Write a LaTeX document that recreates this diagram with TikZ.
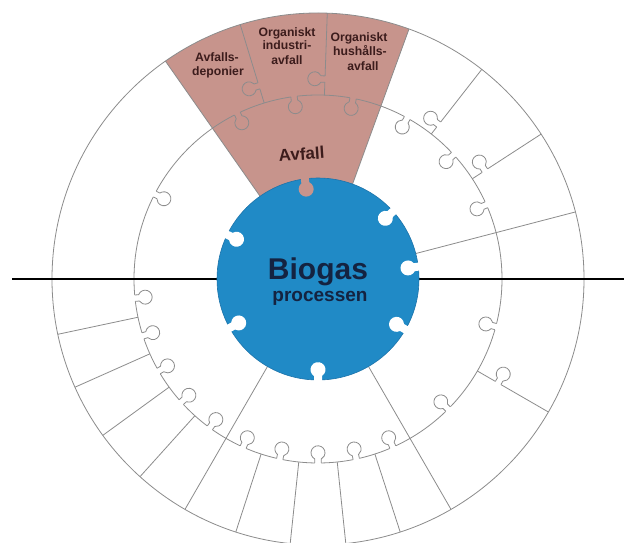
\documentclass[tikz,border=0pt]{standalone}
\usepackage{fontspec}
\setmainfont{Liberation Sans}
\definecolor{pzpink}{RGB}{199,148,140}
\definecolor{pzblue}{RGB}{32,138,198}
\definecolor{pzblueedge}{RGB}{28,115,170}
\definecolor{pznavy}{RGB}{20,35,65}
\definecolor{pzbrown}{RGB}{60,28,28}
\definecolor{pzgray}{RGB}{140,140,140}
\def\cx{318}\def\cy{264}
\def\Rb{101}\def\Rm{184}\def\Ro{266}
% #1 position angle, #2 radius, #3 rotation, #4 fill colour, #5 half neck, #6 neck length, #7 head radius, #8 outline style
\newcommand{\pzknob}[8]{%
  \pgfmathsetmacro\pzA{sqrt((#7)*(#7)-(#5)*(#5))}%
  \pgfmathsetmacro\pzB{atan2(\pzA,#5)}%
  \begin{scope}[shift={(#1:#2pt)}, rotate=#3]
    \fill[#4] (-#5pt,-1.5pt) -- (-#5pt,#6pt) arc[start angle=180+\pzB, end angle=-\pzB, radius=#7pt] -- (#5pt,-1.5pt) -- cycle;
    \draw[#8] (-#5pt,0pt) -- (-#5pt,#6pt) arc[start angle=180+\pzB, end angle=-\pzB, radius=#7pt] -- (#5pt,0pt);
  \end{scope}}
\tikzset{
  pzline/.style={draw=pzgray, line width=0.8pt},
  pinklabel/.style={text=pzbrown, font=\bfseries\fontsize{12.2}{13}\selectfont, anchor=base, inner sep=0pt},
}
\begin{document}
\begin{tikzpicture}[x=1pt,y=1pt]
\useasboundingbox (0,0) rectangle (624,543);
\fill[white] (0,0) rectangle (624,543);
\begin{scope}[shift={(\cx,\cy)}]
  % pink sector
  \fill[pzpink] (0,0) -- (70:\Ro pt) arc[start angle=70, end angle=125, radius=\Ro pt] -- cycle;
  % rings
  \draw[pzline] (0,0) circle[radius=\Ro pt];
  \draw[pzline] (0,0) circle[radius=\Rm pt];
  % outer ring dividers
  \foreach \a in {107,88,52,33,-30,-72,-84,-96,-108,-132,-144,-156,-168}
    \draw[pzline] (\a:\Rm pt) -- (\a:\Ro pt);
  % full dividers
  \foreach \a in {125,70,14.6,-60,-120}
    \draw[pzline] (\a:\Rb pt) -- (\a:\Ro pt);
  % horizontal axis
  \draw[black, line width=1.3pt] (-306,0) -- (306,0);
  % knobs of outer pieces into middle ring
  \foreach \a in {152.5,61,42.5,23.8,-15,-45,-66,-78,-90,-102,-114,-126,-138,-150,-162,-174}
    \pzknob{\a}{\Rm}{\a+90}{white}{3.2}{4}{7}{pzline};
  \foreach \a in {116,97.5,79}
    \pzknob{\a}{\Rm}{\a+90}{pzpink}{3.2}{4}{7}{pzline};
  % side knobs on dividers
  \pzknob{107}{202}{107}{pzpink}{3.2}{4}{7}{pzline};
  \pzknob{88}{200}{88}{pzpink}{3.2}{4}{7}{pzline};
  \pzknob{52}{196}{52}{white}{3.2}{4}{7}{pzline};
  \pzknob{33}{199}{33}{white}{3.2}{4}{7}{pzline};
  \pzknob{-30}{208}{-30}{white}{3.2}{4}{7}{pzline};
  % blue core
  \fill[pzblue] (0,0) circle[radius=\Rb pt];
  \draw[pzblueedge, line width=0.6pt] (0,0) circle[radius=\Rb pt];
  \foreach \a in {42,7,-30,-90,-151,154}
    \pzknob{\a}{\Rb}{\a+90}{white}{4}{4}{7.5}{draw=none};
  \pzknob{97.5}{\Rb}{187.5}{pzpink}{4}{4}{7.5}{draw=none};
  % texts
  \node[name=biogas, text=pznavy, font=\bfseries\fontsize{30}{32}\selectfont, anchor=base, inner sep=0pt] at (0,-1) {Biogas};
  \node[name=processen, text=pznavy, font=\bfseries\fontsize{19}{21}\selectfont, anchor=base, inner sep=0pt] at (2,-23) {processen};
  \node[name=avfall, text=pzbrown, font=\bfseries\fontsize{17}{19}\selectfont, anchor=base, inner sep=0pt, rotate=4] at (-16,119) {Avfall};
  \node[name=dep1, pinklabel] at (-101,217) {Avfalls-};
  \node[name=dep2, pinklabel] at (-100,203) {deponier};
  \node[name=ind1, pinklabel] at (-31,242) {Organiskt};
  \node[name=ind2, pinklabel] at (-31,229) {industri-};
  \node[name=ind3, pinklabel] at (-31,214) {avfall};
  \node[name=hus1, pinklabel] at (41,237) {Organiskt};
  \node[name=hus2, pinklabel] at (42,223) {hushålls-};
  \node[name=hus3, pinklabel] at (45,208) {avfall};
\end{scope}
\end{tikzpicture}
\end{document}
